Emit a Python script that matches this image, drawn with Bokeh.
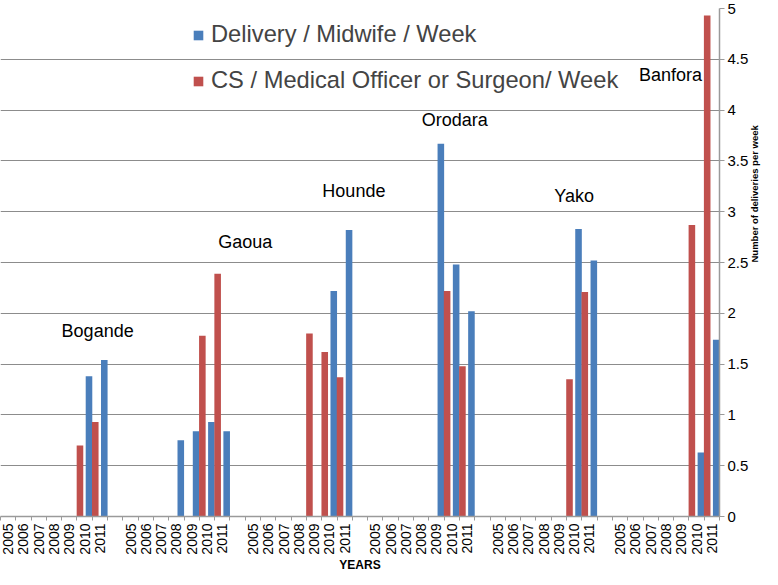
import math
from bokeh.plotting import figure
from bokeh.models import (Range1d, FixedTicker, CustomJSTickFormatter, Legend,
                          LegendItem)
from bokeh.core.properties import value
from bokeh.embed import file_html
from bokeh.resources import INLINE

# ---------------- data ----------------
districts = ["Bogande", "Gaoua", "Hounde", "Orodara", "Yako", "Banfora"]
years = ["2005", "2006", "2007", "2008", "2009", "2010", "2011"]

# Delivery / Midwife / Week (one list per district, 2005..2011; None = no bar)
delivery_bogande = [None, None, None, None, None, 1.38, 1.54]
delivery_gaoua = [None, None, None, 0.75, 0.84, 0.93, 0.84]
delivery_hounde = [None, None, None, None, None, 2.22, 2.82]
delivery_orodara = [None, None, None, None, 3.67, 2.48, 2.02]
delivery_yako = [None, None, None, None, None, 2.83, 2.52]
delivery_banfora = [None, None, None, None, None, 0.63, 1.74]

# CS / Medical Officer or Surgeon / Week
cs_bogande = [None, None, None, None, None, 0.70, 0.93]
cs_gaoua = [None, None, None, None, None, 1.78, 2.39]
cs_hounde = [None, None, None, None, 1.80, 1.62, 1.37]
cs_orodara = [None, None, None, None, None, 2.22, 1.48]
cs_yako = [None, None, None, None, None, 1.35, 2.21]
cs_banfora = [None, None, None, None, None, 2.87, 4.93]

delivery = [delivery_bogande, delivery_gaoua, delivery_hounde,
            delivery_orodara, delivery_yako, delivery_banfora]
cs = [cs_bogande, cs_gaoua, cs_hounde, cs_orodara, cs_yako, cs_banfora]

# district label anchor (in data units: slot, value)
label_slot = [6.35, 16.0, 23.1, 29.7, 37.5, 43.8]
label_value = [1.83, 2.70, 3.20, 3.90, 3.15, 4.35]

y_ticks = [0, 0.5, 1, 1.5, 2, 2.5, 3, 3.5, 4, 4.5, 5]

# ---------------- layout helpers ----------------
FONT = "Liberation Sans"
BLUE = "#4a7ebb"
RED = "#c0504d"
GREY = "#9a9a9a"
SLOTS_PER_GROUP = len(years) + 1
N_SLOTS = len(districts) * SLOTS_PER_GROUP - 1

bx, bt, rx, rt = [], [], [], []
slot_labels = [""] * N_SLOTS
centers = []
for g in range(len(districts)):
    for j, yr in enumerate(years):
        s = g * SLOTS_PER_GROUP + j
        slot_labels[s] = yr
        centers.append(s + 0.5)
        if delivery[g][j] is not None:
            bx.append(s + 0.785)
            bt.append(delivery[g][j])
        if cs[g][j] is not None:
            rx.append(s + 0.195)
            rt.append(cs[g][j])

p = figure(frame_width=719, frame_height=508, output_backend="svg",
           toolbar_location=None, x_range=Range1d(0, N_SLOTS),
           y_range=Range1d(0, 5), y_axis_location="right",
           min_border_left=0, min_border_top=8, min_border_right=0,
           min_border_bottom=0)
p.outline_line_color = None
p.background_fill_color = "white"
p.border_fill_color = "white"

rb = p.vbar(x=bx, top=bt, width=0.43, fill_color=BLUE, line_color=None)
rr = p.vbar(x=rx, top=rt, width=0.43, fill_color=RED, line_color=None)

p.text(x=label_slot, y=label_value, text=districts, text_align="center",
       text_baseline="middle", text_font=value(FONT), text_font_size="18px",
       text_color="black")

# grid
p.xgrid.visible = False
p.ygrid.ticker = FixedTicker(ticks=y_ticks)
p.ygrid.grid_line_color = "#8c8c8c"
p.ygrid.grid_line_width = 1.2

# x axis
xa = p.xaxis[0]
xa.ticker = FixedTicker(ticks=centers, minor_ticks=list(range(N_SLOTS + 1)))
xa.formatter = CustomJSTickFormatter(args=dict(labels=slot_labels),
                                     code="return labels[Math.floor(tick)] || '';")
xa.major_label_orientation = math.pi / 2
xa.major_tick_out = 0
xa.major_tick_in = 0
xa.minor_tick_out = 4
xa.minor_tick_in = 0
xa.minor_tick_line_color = GREY
xa.axis_line_color = GREY
xa.axis_line_width = 1.5
xa.major_label_text_font = FONT
xa.major_label_text_font_size = "14px"
xa.major_label_text_color = "black"
xa.major_label_standoff = 3
xa.axis_label = "YEARS"
xa.axis_label_text_font = FONT
xa.axis_label_text_font_size = "12px"
xa.axis_label_text_font_style = "bold"
xa.axis_label_text_color = "black"
xa.axis_label_standoff = 0

# y axis (right)
ya = p.yaxis[0]
ya.ticker = FixedTicker(ticks=y_ticks)
ya.formatter = CustomJSTickFormatter(code="return tick.toString();")
ya.minor_tick_line_color = None
ya.major_tick_out = 5
ya.major_tick_in = 0
ya.major_tick_line_color = GREY
ya.axis_line_color = GREY
ya.axis_line_width = 1.5
ya.major_label_text_font = FONT
ya.major_label_text_font_size = "15px"
ya.major_label_text_color = "black"
ya.major_label_standoff = 3
ya.axis_label = "Number of deliveries per week"
ya.axis_label_text_font = FONT
ya.axis_label_text_font_size = "9.5px"
ya.axis_label_text_font_style = "bold"
ya.axis_label_text_color = "black"
ya.axis_label_standoff = 3
ya.axis_label_orientation = math.pi / 2

legend = Legend(items=[
    LegendItem(label="Delivery / Midwife / Week", renderers=[rb]),
    LegendItem(label="CS / Medical Officer or Surgeon/ Week", renderers=[rr]),
], location=(192, 422))
legend.label_text_font = FONT
legend.label_text_font_size = "23.7px"
legend.glyph_width = 12
legend.glyph_height = 12
legend.label_standoff = 7
legend.spacing = 19
legend.padding = 0
legend.margin = 0
legend.border_line_color = None
legend.background_fill_alpha = 0
p.add_layout(legend)

open("out.html", "w").write(file_html(p, INLINE))
